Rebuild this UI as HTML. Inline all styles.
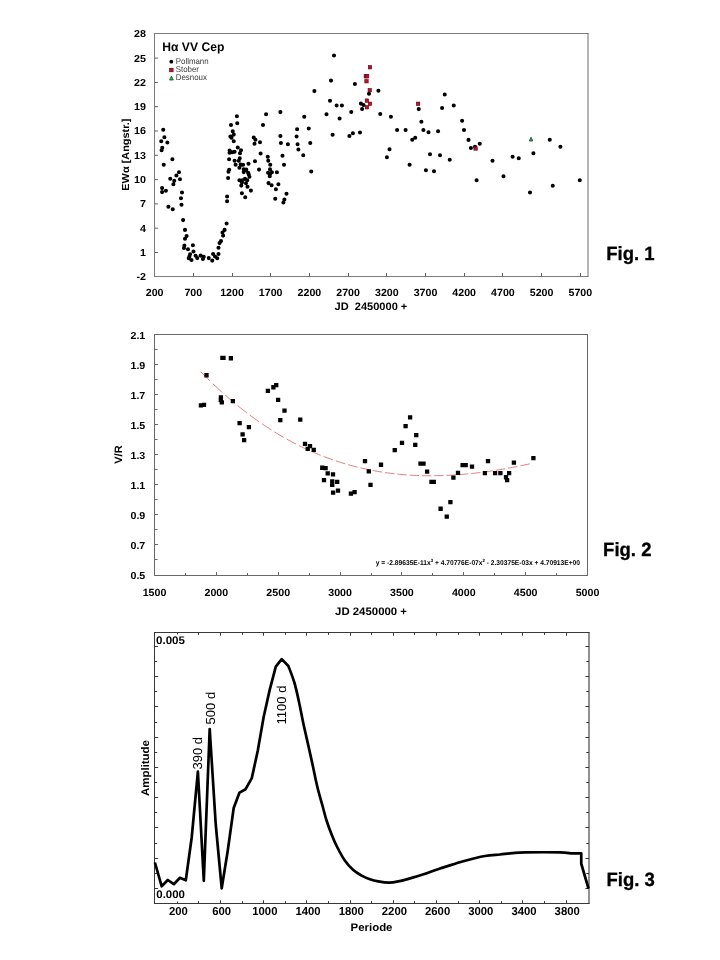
<!DOCTYPE html>
<html lang="de">
<head>
<meta charset="utf-8">
<title>Hα VV Cep</title>
<style>
html,body{margin:0;padding:0;background:#fff;}
body{width:720px;height:960px;overflow:hidden;font-family:"Liberation Sans", sans-serif;}
svg{display:block;font-family:"Liberation Sans", sans-serif;text-rendering:geometricPrecision;}
</style>
</head>
<body>
<svg width="720" height="960" viewBox="0 0 720 960">
<rect width="720" height="960" fill="#ffffff"/>

<g id="chart1">
<path d="M154.5 33.0V277.0M154.0 33.5H588.5M154.0 276.5H588.5" fill="none" stroke="#7c7c7c" stroke-width="1"/>
<path d="M588.0 33.0V277.0" fill="none" stroke="#7c7c7c" stroke-width="1.1"/>
<text transform="translate(146.00,37.20) scale(1.06,1)" font-size="10.15" font-weight="bold" text-anchor="end" fill="#000">28</text>
<line x1="154.50" y1="58.10" x2="158.00" y2="58.10" stroke="#606060" stroke-width="1"/>
<text transform="translate(146.00,61.50) scale(1.06,1)" font-size="10.15" font-weight="bold" text-anchor="end" fill="#000">25</text>
<line x1="154.50" y1="82.40" x2="158.00" y2="82.40" stroke="#606060" stroke-width="1"/>
<text transform="translate(146.00,85.80) scale(1.06,1)" font-size="10.15" font-weight="bold" text-anchor="end" fill="#000">22</text>
<line x1="154.50" y1="106.70" x2="158.00" y2="106.70" stroke="#606060" stroke-width="1"/>
<text transform="translate(146.00,110.10) scale(1.06,1)" font-size="10.15" font-weight="bold" text-anchor="end" fill="#000">19</text>
<line x1="154.50" y1="131.00" x2="158.00" y2="131.00" stroke="#606060" stroke-width="1"/>
<text transform="translate(146.00,134.40) scale(1.06,1)" font-size="10.15" font-weight="bold" text-anchor="end" fill="#000">16</text>
<line x1="154.50" y1="155.30" x2="158.00" y2="155.30" stroke="#606060" stroke-width="1"/>
<text transform="translate(146.00,158.70) scale(1.06,1)" font-size="10.15" font-weight="bold" text-anchor="end" fill="#000">13</text>
<line x1="154.50" y1="179.60" x2="158.00" y2="179.60" stroke="#606060" stroke-width="1"/>
<text transform="translate(146.00,183.00) scale(1.06,1)" font-size="10.15" font-weight="bold" text-anchor="end" fill="#000">10</text>
<line x1="154.50" y1="203.90" x2="158.00" y2="203.90" stroke="#606060" stroke-width="1"/>
<text transform="translate(146.00,207.30) scale(1.06,1)" font-size="10.15" font-weight="bold" text-anchor="end" fill="#000">7</text>
<line x1="154.50" y1="228.20" x2="158.00" y2="228.20" stroke="#606060" stroke-width="1"/>
<text transform="translate(146.00,231.60) scale(1.06,1)" font-size="10.15" font-weight="bold" text-anchor="end" fill="#000">4</text>
<line x1="154.50" y1="252.50" x2="158.00" y2="252.50" stroke="#606060" stroke-width="1"/>
<text transform="translate(146.00,255.90) scale(1.06,1)" font-size="10.15" font-weight="bold" text-anchor="end" fill="#000">1</text>
<text transform="translate(146.00,280.20) scale(1.06,1)" font-size="10.15" font-weight="bold" text-anchor="end" fill="#000">-2</text>
<text transform="translate(154.60,296.30) scale(1.023,1)" font-size="10.4" font-weight="bold" text-anchor="middle" fill="#000">200</text>
<line x1="193.50" y1="276.50" x2="193.50" y2="273.00" stroke="#606060" stroke-width="1"/>
<text transform="translate(193.30,296.30) scale(1.023,1)" font-size="10.4" font-weight="bold" text-anchor="middle" fill="#000">700</text>
<line x1="232.50" y1="276.50" x2="232.50" y2="273.00" stroke="#606060" stroke-width="1"/>
<text transform="translate(232.00,296.30) scale(1.023,1)" font-size="10.4" font-weight="bold" text-anchor="middle" fill="#000">1200</text>
<line x1="270.50" y1="276.50" x2="270.50" y2="273.00" stroke="#606060" stroke-width="1"/>
<text transform="translate(270.70,296.30) scale(1.023,1)" font-size="10.4" font-weight="bold" text-anchor="middle" fill="#000">1700</text>
<line x1="309.50" y1="276.50" x2="309.50" y2="273.00" stroke="#606060" stroke-width="1"/>
<text transform="translate(309.40,296.30) scale(1.023,1)" font-size="10.4" font-weight="bold" text-anchor="middle" fill="#000">2200</text>
<line x1="348.50" y1="276.50" x2="348.50" y2="273.00" stroke="#606060" stroke-width="1"/>
<text transform="translate(348.10,296.30) scale(1.023,1)" font-size="10.4" font-weight="bold" text-anchor="middle" fill="#000">2700</text>
<line x1="386.50" y1="276.50" x2="386.50" y2="273.00" stroke="#606060" stroke-width="1"/>
<text transform="translate(386.80,296.30) scale(1.023,1)" font-size="10.4" font-weight="bold" text-anchor="middle" fill="#000">3200</text>
<line x1="425.50" y1="276.50" x2="425.50" y2="273.00" stroke="#606060" stroke-width="1"/>
<text transform="translate(425.50,296.30) scale(1.023,1)" font-size="10.4" font-weight="bold" text-anchor="middle" fill="#000">3700</text>
<line x1="464.50" y1="276.50" x2="464.50" y2="273.00" stroke="#606060" stroke-width="1"/>
<text transform="translate(464.20,296.30) scale(1.023,1)" font-size="10.4" font-weight="bold" text-anchor="middle" fill="#000">4200</text>
<line x1="502.50" y1="276.50" x2="502.50" y2="273.00" stroke="#606060" stroke-width="1"/>
<text transform="translate(502.90,296.30) scale(1.023,1)" font-size="10.4" font-weight="bold" text-anchor="middle" fill="#000">4700</text>
<line x1="541.50" y1="276.50" x2="541.50" y2="273.00" stroke="#606060" stroke-width="1"/>
<text transform="translate(541.60,296.30) scale(1.023,1)" font-size="10.4" font-weight="bold" text-anchor="middle" fill="#000">5200</text>
<line x1="580.50" y1="276.50" x2="580.50" y2="273.00" stroke="#606060" stroke-width="1"/>
<text transform="translate(580.30,296.30) scale(1.023,1)" font-size="10.4" font-weight="bold" text-anchor="middle" fill="#000">5700</text>
<text transform="translate(370.90,310.00) scale(1.023,1)" font-size="10.8" font-weight="bold" text-anchor="middle" fill="#000" style="white-space:pre">JD  2450000 +</text>
<text transform="translate(129.00,154.60) rotate(-90) scale(1.07,1)" font-size="10.2" font-weight="bold" text-anchor="middle" fill="#000">EWα [Angstr.]</text>
<text transform="translate(162.30,50.60)" font-size="12.5" font-weight="bold" text-anchor="start" fill="#000" textLength="62.0" lengthAdjust="spacingAndGlyphs">Hα VV Cep</text>
<circle cx="171.3" cy="61.7" r="1.9" fill="#000"/>
<rect x="169.55" y="68.2" width="3.6" height="3.6" fill="#c01028" stroke="#600010" stroke-width="0.6"/>
<path d="M171.4 76.2 L173.3 80.0 L169.5 80.0 Z" fill="#35b04a" stroke="#156a25" stroke-width="0.9"/>
<text transform="translate(175.80,64.00) scale(0.94,1)" font-size="8.4" font-weight="normal" text-anchor="start" fill="#3a3a3a">Pollmann</text>
<text transform="translate(175.80,72.20) scale(0.94,1)" font-size="8.4" font-weight="normal" text-anchor="start" fill="#3a3a3a">Stober</text>
<text transform="translate(175.80,80.30) scale(0.94,1)" font-size="8.4" font-weight="normal" text-anchor="start" fill="#3a3a3a">Desnoux</text>
<path d="M163.25 129.80h0M164.40 137.20h0M161.25 141.20h0M167.40 142.45h0M162.25 147.70h0M161.60 150.20h0M172.40 159.30h0M163.75 164.80h0M236.90 116.20h0M237.25 123.30h0M231.00 124.95h0M232.75 131.20h0M233.75 134.60h0M230.40 136.45h0M231.50 137.70h0M233.75 141.30h0M237.75 147.45h0M241.00 150.20h0M229.60 150.45h0M229.60 152.70h0M234.60 151.70h0M232.20 152.20h0M240.00 153.30h0M239.75 158.30h0M229.10 159.30h0M234.60 160.80h0M238.75 160.80h0M235.60 164.80h0M240.60 164.60h0M243.10 164.80h0M248.50 163.70h0M239.40 167.70h0M243.75 169.20h0M246.25 169.60h0M229.20 169.70h0M266.10 114.30h0M280.40 112.10h0M304.25 116.80h0M263.00 124.95h0M297.10 129.30h0M308.75 128.45h0M280.40 135.95h0M296.60 136.45h0M253.75 137.45h0M255.40 139.70h0M260.00 142.30h0M254.50 143.80h0M280.90 142.95h0M287.90 144.20h0M297.60 144.20h0M310.25 142.95h0M298.40 149.45h0M260.60 153.45h0M303.25 155.30h0M282.50 155.80h0M267.75 156.70h0M255.00 161.20h0M268.25 160.80h0M270.25 164.80h0M284.00 164.80h0M259.00 169.60h0M270.00 169.30h0M311.25 171.45h0M179.00 172.30h0M176.40 175.45h0M170.25 178.70h0M180.00 179.30h0M174.25 180.80h0M173.40 184.30h0M162.10 188.10h0M165.90 190.80h0M162.10 192.10h0M182.00 192.45h0M181.00 198.30h0M181.50 204.80h0M168.40 206.70h0M172.75 209.30h0M183.10 220.10h0M185.00 229.90h0M228.50 171.70h0M228.10 177.95h0M227.10 196.45h0M227.10 201.20h0M226.60 223.50h0M224.60 229.90h0M222.50 232.45h0M186.60 236.10h0M223.10 235.60h0M185.00 238.70h0M221.00 241.10h0M219.60 243.10h0M192.90 245.20h0M184.40 245.60h0M184.00 247.95h0M218.50 247.70h0M188.00 249.30h0M193.50 251.45h0M190.10 254.20h0M213.10 253.95h0M218.50 253.95h0M189.40 256.45h0M195.60 255.80h0M200.60 255.60h0M203.75 256.80h0M215.00 256.45h0M188.75 258.30h0M197.25 258.10h0M202.90 258.95h0M208.75 258.10h0M217.25 258.30h0M191.50 259.95h0M212.25 260.60h0M243.75 172.10h0M248.10 172.70h0M248.75 174.60h0M249.40 176.70h0M276.90 172.30h0M268.10 172.70h0M271.90 172.30h0M270.00 174.20h0M269.75 176.20h0M245.00 178.70h0M239.40 180.20h0M242.50 180.20h0M247.25 180.20h0M241.90 182.45h0M246.00 183.30h0M241.25 185.60h0M247.50 186.70h0M268.50 183.10h0M271.60 185.20h0M278.40 184.20h0M275.90 189.30h0M250.90 190.60h0M241.90 193.30h0M245.25 197.20h0M286.50 193.70h0M275.25 198.80h0M284.40 199.60h0M283.40 202.45h0M314.40 91.10h0M334.00 55.45h0M331.00 80.60h0M354.90 83.95h0M378.40 90.80h0M369.00 93.70h0M330.00 100.70h0M336.60 105.45h0M341.90 105.45h0M360.90 103.60h0M363.50 104.95h0M362.10 108.95h0M351.25 111.95h0M326.50 114.30h0M339.60 118.45h0M380.25 113.95h0M390.90 116.80h0M397.10 129.95h0M405.60 129.95h0M360.00 132.45h0M352.90 133.30h0M349.40 135.95h0M332.60 134.80h0M389.50 149.20h0M386.90 157.30h0M409.60 164.80h0M418.75 109.10h0M444.75 94.45h0M453.75 105.45h0M442.10 107.95h0M421.40 121.80h0M462.10 120.80h0M423.40 129.95h0M428.50 132.30h0M438.10 131.30h0M464.00 129.95h0M415.25 137.70h0M412.25 139.70h0M468.50 139.90h0M479.75 143.70h0M470.90 147.95h0M475.00 146.70h0M430.00 154.20h0M440.00 155.30h0M449.75 159.80h0M425.90 170.30h0M434.00 171.20h0M476.60 180.30h0M549.75 139.80h0M560.40 146.80h0M533.40 153.30h0M512.60 156.80h0M518.75 158.30h0M492.50 160.80h0M503.50 176.30h0M579.80 180.30h0M552.75 185.70h0M530.00 192.45h0" stroke="#000" stroke-width="4.1" stroke-linecap="round" fill="none"/>
<rect x="368.30" y="65.55" width="3.4" height="3.4" fill="#c01028" stroke="#600010" stroke-width="0.6"/>
<rect x="364.10" y="74.55" width="3.4" height="3.4" fill="#c01028" stroke="#600010" stroke-width="0.6"/>
<rect x="365.40" y="74.55" width="3.4" height="3.4" fill="#c01028" stroke="#600010" stroke-width="0.6"/>
<rect x="364.80" y="79.55" width="3.4" height="3.4" fill="#c01028" stroke="#600010" stroke-width="0.6"/>
<rect x="368.05" y="88.50" width="3.4" height="3.4" fill="#c01028" stroke="#600010" stroke-width="0.6"/>
<rect x="365.20" y="98.90" width="3.4" height="3.4" fill="#c01028" stroke="#600010" stroke-width="0.6"/>
<rect x="368.30" y="102.05" width="3.4" height="3.4" fill="#c01028" stroke="#600010" stroke-width="0.6"/>
<rect x="365.20" y="105.55" width="3.4" height="3.4" fill="#c01028" stroke="#600010" stroke-width="0.6"/>
<rect x="416.40" y="102.05" width="3.4" height="3.4" fill="#c01028" stroke="#600010" stroke-width="0.6"/>
<rect x="473.90" y="146.80" width="3.4" height="3.4" fill="#c01028" stroke="#600010" stroke-width="0.6"/>
<path d="M531.05 137.3 L532.75 141.0 L529.35 141.0 Z" fill="#3a9a55" stroke="#1c5c2c" stroke-width="0.9" stroke-linejoin="miter"/>
<text transform="translate(606.20,260.00) scale(0.965,1)" font-size="19.2" font-weight="bold" text-anchor="start" fill="#000" stroke="#000" stroke-width="0.3">Fig. 1</text>
</g>
<g id="chart2">
<path d="M154.5 334.0V576.0M154.0 334.5H588.0M154.0 575.5H588.0" fill="none" stroke="#686868" stroke-width="1"/>
<path d="M587.5 334.0V576.0" fill="none" stroke="#686868" stroke-width="1.0"/>
<text transform="translate(145.30,338.50) scale(1.046,1)" font-size="10.2" font-weight="bold" text-anchor="end" fill="#000">2.1</text>
<line x1="154.50" y1="349.50" x2="157.50" y2="349.50" stroke="#686868" stroke-width="1"/>
<line x1="154.50" y1="364.50" x2="158.00" y2="364.50" stroke="#686868" stroke-width="1"/>
<text transform="translate(145.30,368.56) scale(1.046,1)" font-size="10.2" font-weight="bold" text-anchor="end" fill="#000">1.9</text>
<line x1="154.50" y1="379.50" x2="157.50" y2="379.50" stroke="#686868" stroke-width="1"/>
<line x1="154.50" y1="394.50" x2="158.00" y2="394.50" stroke="#686868" stroke-width="1"/>
<text transform="translate(145.30,398.62) scale(1.046,1)" font-size="10.2" font-weight="bold" text-anchor="end" fill="#000">1.7</text>
<line x1="154.50" y1="409.50" x2="157.50" y2="409.50" stroke="#686868" stroke-width="1"/>
<line x1="154.50" y1="424.50" x2="158.00" y2="424.50" stroke="#686868" stroke-width="1"/>
<text transform="translate(145.30,428.69) scale(1.046,1)" font-size="10.2" font-weight="bold" text-anchor="end" fill="#000">1.5</text>
<line x1="154.50" y1="439.50" x2="157.50" y2="439.50" stroke="#686868" stroke-width="1"/>
<line x1="154.50" y1="454.50" x2="158.00" y2="454.50" stroke="#686868" stroke-width="1"/>
<text transform="translate(145.30,458.75) scale(1.046,1)" font-size="10.2" font-weight="bold" text-anchor="end" fill="#000">1.3</text>
<line x1="154.50" y1="469.50" x2="157.50" y2="469.50" stroke="#686868" stroke-width="1"/>
<line x1="154.50" y1="484.50" x2="158.00" y2="484.50" stroke="#686868" stroke-width="1"/>
<text transform="translate(145.30,488.81) scale(1.046,1)" font-size="10.2" font-weight="bold" text-anchor="end" fill="#000">1.1</text>
<line x1="154.50" y1="499.50" x2="157.50" y2="499.50" stroke="#686868" stroke-width="1"/>
<line x1="154.50" y1="514.50" x2="158.00" y2="514.50" stroke="#686868" stroke-width="1"/>
<text transform="translate(145.30,518.88) scale(1.046,1)" font-size="10.2" font-weight="bold" text-anchor="end" fill="#000">0.9</text>
<line x1="154.50" y1="529.50" x2="157.50" y2="529.50" stroke="#686868" stroke-width="1"/>
<line x1="154.50" y1="544.50" x2="158.00" y2="544.50" stroke="#686868" stroke-width="1"/>
<text transform="translate(145.30,548.94) scale(1.046,1)" font-size="10.2" font-weight="bold" text-anchor="end" fill="#000">0.7</text>
<line x1="154.50" y1="559.50" x2="157.50" y2="559.50" stroke="#686868" stroke-width="1"/>
<text transform="translate(145.30,579.00) scale(1.046,1)" font-size="10.2" font-weight="bold" text-anchor="end" fill="#000">0.5</text>
<text transform="translate(154.50,595.80) scale(1.026,1)" font-size="10.4" font-weight="bold" text-anchor="middle" fill="#000">1500</text>
<line x1="185.50" y1="575.50" x2="185.50" y2="573.00" stroke="#686868" stroke-width="1"/>
<line x1="216.50" y1="575.50" x2="216.50" y2="572.00" stroke="#686868" stroke-width="1"/>
<text transform="translate(216.36,595.80) scale(1.026,1)" font-size="10.4" font-weight="bold" text-anchor="middle" fill="#000">2000</text>
<line x1="247.50" y1="575.50" x2="247.50" y2="573.00" stroke="#686868" stroke-width="1"/>
<line x1="278.50" y1="575.50" x2="278.50" y2="572.00" stroke="#686868" stroke-width="1"/>
<text transform="translate(278.21,595.80) scale(1.026,1)" font-size="10.4" font-weight="bold" text-anchor="middle" fill="#000">2500</text>
<line x1="309.50" y1="575.50" x2="309.50" y2="573.00" stroke="#686868" stroke-width="1"/>
<line x1="340.50" y1="575.50" x2="340.50" y2="572.00" stroke="#686868" stroke-width="1"/>
<text transform="translate(340.07,595.80) scale(1.026,1)" font-size="10.4" font-weight="bold" text-anchor="middle" fill="#000">3000</text>
<line x1="371.50" y1="575.50" x2="371.50" y2="573.00" stroke="#686868" stroke-width="1"/>
<line x1="401.50" y1="575.50" x2="401.50" y2="572.00" stroke="#686868" stroke-width="1"/>
<text transform="translate(401.93,595.80) scale(1.026,1)" font-size="10.4" font-weight="bold" text-anchor="middle" fill="#000">3500</text>
<line x1="432.50" y1="575.50" x2="432.50" y2="573.00" stroke="#686868" stroke-width="1"/>
<line x1="463.50" y1="575.50" x2="463.50" y2="572.00" stroke="#686868" stroke-width="1"/>
<text transform="translate(463.79,595.80) scale(1.026,1)" font-size="10.4" font-weight="bold" text-anchor="middle" fill="#000">4000</text>
<line x1="494.50" y1="575.50" x2="494.50" y2="573.00" stroke="#686868" stroke-width="1"/>
<line x1="525.50" y1="575.50" x2="525.50" y2="572.00" stroke="#686868" stroke-width="1"/>
<text transform="translate(525.64,595.80) scale(1.026,1)" font-size="10.4" font-weight="bold" text-anchor="middle" fill="#000">4500</text>
<line x1="556.50" y1="575.50" x2="556.50" y2="573.00" stroke="#686868" stroke-width="1"/>
<text transform="translate(587.50,595.80) scale(1.026,1)" font-size="10.4" font-weight="bold" text-anchor="middle" fill="#000">5000</text>
<text transform="translate(371.00,615.30) scale(1.046,1)" font-size="10.9" font-weight="bold" text-anchor="middle" fill="#000">JD 2450000 +</text>
<text transform="translate(122.20,454.60) rotate(-90) scale(1.03,1)" font-size="10.7" font-weight="bold" text-anchor="middle" fill="#000">V/R</text>
<path d="M200.60 371.61 L202.93 373.99 L205.25 376.32 L207.57 378.63 L209.90 380.91M212.90 383.79 L215.23 385.99 L217.55 388.16 L219.88 390.30 L222.20 392.41M225.20 395.08 L227.53 397.12 L229.85 399.12 L232.18 401.10 L234.50 403.04M237.50 405.51 L239.83 407.38 L242.15 409.23 L244.48 411.04 L246.80 412.83M249.80 415.09 L252.13 416.81 L254.45 418.50 L256.78 420.17 L259.10 421.80M262.10 423.87 L264.43 425.44 L266.75 426.98 L269.08 428.49 L271.40 429.98M274.40 431.85 L276.73 433.28 L279.05 434.67 L281.38 436.04 L283.70 437.38M286.70 439.08 L289.03 440.36 L291.35 441.62 L293.68 442.85 L296.00 444.05M299.00 445.57 L301.33 446.71 L303.65 447.83 L305.98 448.93 L308.30 450.00M311.30 451.35 L313.63 452.36 L315.95 453.35 L318.28 454.32 L320.60 455.26M323.60 456.44 L325.93 457.33 L328.25 458.19 L330.58 459.04 L332.90 459.86M335.90 460.88 L338.23 461.64 L340.55 462.39 L342.88 463.11 L345.20 463.81M348.20 464.68 L350.53 465.33 L352.85 465.96 L355.18 466.57 L357.50 467.15M360.50 467.88 L362.83 468.41 L365.15 468.93 L367.48 469.43 L369.80 469.91M372.80 470.49 L375.13 470.92 L377.45 471.33 L379.78 471.72 L382.10 472.10M385.10 472.55 L387.43 472.88 L389.75 473.19 L392.08 473.48 L394.40 473.75M397.40 474.08 L399.73 474.31 L402.05 474.52 L404.38 474.72 L406.70 474.89M409.70 475.10 L412.03 475.24 L414.35 475.36 L416.68 475.46 L419.00 475.55M422.00 475.64 L424.33 475.69 L426.65 475.73 L428.98 475.75 L431.30 475.75M434.30 475.73 L436.63 475.70 L438.95 475.65 L441.28 475.59 L443.60 475.52M446.60 475.40 L448.93 475.29 L451.25 475.16 L453.58 475.02 L455.90 474.87M458.90 474.66 L461.23 474.47 L463.55 474.28 L465.88 474.07 L468.20 473.85M471.20 473.54 L473.53 473.29 L475.85 473.03 L478.18 472.75 L480.50 472.46M483.50 472.08 L485.83 471.76 L488.15 471.43 L490.48 471.10 L492.80 470.75M495.80 470.28 L498.13 469.91 L500.45 469.53 L502.78 469.13 L505.10 468.73M508.10 468.19 L510.43 467.77 L512.75 467.33 L515.08 466.88 L517.40 466.43M520.40 465.83 L522.73 465.35 L525.05 464.87 L527.38 464.38 L529.70 463.88" fill="none" stroke="#e06868" stroke-width="0.85"/>
<path d="M222.40 357.90h0M223.50 357.90h0M230.90 358.25h0M206.50 375.25h0M276.25 385.15h0M273.40 387.25h0M267.90 390.90h0M220.90 397.40h0M220.80 399.95h0M221.80 402.45h0M232.90 401.05h0M278.10 399.95h0M200.90 405.35h0M204.00 404.95h0M284.50 410.65h0M280.30 420.05h0M239.60 423.05h0M248.90 427.15h0M242.60 434.40h0M244.10 440.15h0M300.25 419.55h0M305.00 443.90h0M310.00 446.15h0M307.75 448.90h0M313.75 449.90h0M365.00 461.15h0M322.25 467.75h0M325.60 468.15h0M327.70 473.40h0M333.00 474.35h0M324.00 480.15h0M332.25 481.40h0M337.20 481.90h0M332.25 484.95h0M368.80 471.40h0M338.00 490.65h0M370.50 484.90h0M333.10 492.65h0M350.90 493.65h0M354.60 492.15h0M381.00 464.75h0M410.10 417.40h0M405.60 426.15h0M416.25 435.05h0M402.00 442.90h0M415.25 444.90h0M394.75 450.15h0M420.50 463.55h0M423.50 463.55h0M427.10 471.55h0M431.50 481.90h0M433.75 481.90h0M462.60 465.15h0M465.70 465.15h0M458.00 472.90h0M453.40 477.65h0M450.40 502.15h0M440.60 508.75h0M446.75 516.65h0M472.00 466.65h0M488.00 461.05h0M484.90 473.05h0M495.10 473.05h0M500.40 473.05h0M509.10 473.05h0M506.00 477.25h0M507.10 480.15h0M513.90 462.65h0M533.40 458.05h0" stroke="#000" stroke-width="4.3" stroke-linecap="square" fill="none"/>
<text transform="translate(375.80,565.00)" font-size="7" font-weight="bold" text-anchor="start" fill="#000" textLength="204.2" lengthAdjust="spacingAndGlyphs">y = -2.89635E-11x<tspan font-size="4.5" dy="-3">3</tspan><tspan dy="3"> + 4.70776E-07x</tspan><tspan font-size="4.5" dy="-3">2</tspan><tspan dy="3"> - 2.30375E-03x + 4.70913E+00</tspan></text>
<text transform="translate(603.10,555.90) scale(0.965,1)" font-size="19.2" font-weight="bold" text-anchor="start" fill="#000" stroke="#000" stroke-width="0.3">Fig. 2</text>
</g>
<g id="chart3">
<path d="M154.5 632.0V904.0M154.0 632.5H589.5M154.0 903.5H589.5" fill="none" stroke="#383838" stroke-width="1"/>
<path d="M589.0 632.0V904.0" fill="none" stroke="#383838" stroke-width="1.1"/>
<line x1="177.50" y1="903.50" x2="177.50" y2="901.50" stroke="#383838" stroke-width="1"/>
<line x1="177.50" y1="632.50" x2="177.50" y2="634.50" stroke="#383838" stroke-width="1"/>
<text transform="translate(178.45,914.80) scale(0.985,1)" font-size="11.5" font-weight="bold" text-anchor="middle" fill="#000">200</text>
<line x1="198.50" y1="903.50" x2="198.50" y2="901.10" stroke="#383838" stroke-width="1"/>
<line x1="198.50" y1="632.50" x2="198.50" y2="634.90" stroke="#383838" stroke-width="1"/>
<line x1="220.50" y1="903.50" x2="220.50" y2="900.30" stroke="#383838" stroke-width="1"/>
<line x1="220.50" y1="632.50" x2="220.50" y2="635.70" stroke="#383838" stroke-width="1"/>
<text transform="translate(221.65,914.80) scale(0.985,1)" font-size="11.5" font-weight="bold" text-anchor="middle" fill="#000">600</text>
<line x1="242.50" y1="903.50" x2="242.50" y2="901.10" stroke="#383838" stroke-width="1"/>
<line x1="242.50" y1="632.50" x2="242.50" y2="634.90" stroke="#383838" stroke-width="1"/>
<line x1="263.50" y1="903.50" x2="263.50" y2="900.30" stroke="#383838" stroke-width="1"/>
<line x1="263.50" y1="632.50" x2="263.50" y2="635.70" stroke="#383838" stroke-width="1"/>
<text transform="translate(264.84,914.80) scale(0.985,1)" font-size="11.5" font-weight="bold" text-anchor="middle" fill="#000">1000</text>
<line x1="285.50" y1="903.50" x2="285.50" y2="901.10" stroke="#383838" stroke-width="1"/>
<line x1="285.50" y1="632.50" x2="285.50" y2="634.90" stroke="#383838" stroke-width="1"/>
<line x1="306.50" y1="903.50" x2="306.50" y2="900.30" stroke="#383838" stroke-width="1"/>
<line x1="306.50" y1="632.50" x2="306.50" y2="635.70" stroke="#383838" stroke-width="1"/>
<text transform="translate(308.04,914.80) scale(0.985,1)" font-size="11.5" font-weight="bold" text-anchor="middle" fill="#000">1400</text>
<line x1="328.50" y1="903.50" x2="328.50" y2="901.10" stroke="#383838" stroke-width="1"/>
<line x1="328.50" y1="632.50" x2="328.50" y2="634.90" stroke="#383838" stroke-width="1"/>
<line x1="350.50" y1="903.50" x2="350.50" y2="900.30" stroke="#383838" stroke-width="1"/>
<line x1="350.50" y1="632.50" x2="350.50" y2="635.70" stroke="#383838" stroke-width="1"/>
<text transform="translate(351.23,914.80) scale(0.985,1)" font-size="11.5" font-weight="bold" text-anchor="middle" fill="#000">1800</text>
<line x1="371.50" y1="903.50" x2="371.50" y2="901.10" stroke="#383838" stroke-width="1"/>
<line x1="371.50" y1="632.50" x2="371.50" y2="634.90" stroke="#383838" stroke-width="1"/>
<line x1="393.50" y1="903.50" x2="393.50" y2="900.30" stroke="#383838" stroke-width="1"/>
<line x1="393.50" y1="632.50" x2="393.50" y2="635.70" stroke="#383838" stroke-width="1"/>
<text transform="translate(394.43,914.80) scale(0.985,1)" font-size="11.5" font-weight="bold" text-anchor="middle" fill="#000">2200</text>
<line x1="414.50" y1="903.50" x2="414.50" y2="901.10" stroke="#383838" stroke-width="1"/>
<line x1="414.50" y1="632.50" x2="414.50" y2="634.90" stroke="#383838" stroke-width="1"/>
<line x1="436.50" y1="903.50" x2="436.50" y2="900.30" stroke="#383838" stroke-width="1"/>
<line x1="436.50" y1="632.50" x2="436.50" y2="635.70" stroke="#383838" stroke-width="1"/>
<text transform="translate(437.63,914.80) scale(0.985,1)" font-size="11.5" font-weight="bold" text-anchor="middle" fill="#000">2600</text>
<line x1="458.50" y1="903.50" x2="458.50" y2="901.10" stroke="#383838" stroke-width="1"/>
<line x1="458.50" y1="632.50" x2="458.50" y2="634.90" stroke="#383838" stroke-width="1"/>
<line x1="479.50" y1="903.50" x2="479.50" y2="900.30" stroke="#383838" stroke-width="1"/>
<line x1="479.50" y1="632.50" x2="479.50" y2="635.70" stroke="#383838" stroke-width="1"/>
<text transform="translate(480.82,914.80) scale(0.985,1)" font-size="11.5" font-weight="bold" text-anchor="middle" fill="#000">3000</text>
<line x1="501.50" y1="903.50" x2="501.50" y2="901.10" stroke="#383838" stroke-width="1"/>
<line x1="501.50" y1="632.50" x2="501.50" y2="634.90" stroke="#383838" stroke-width="1"/>
<line x1="522.50" y1="903.50" x2="522.50" y2="900.30" stroke="#383838" stroke-width="1"/>
<line x1="522.50" y1="632.50" x2="522.50" y2="635.70" stroke="#383838" stroke-width="1"/>
<text transform="translate(524.02,914.80) scale(0.985,1)" font-size="11.5" font-weight="bold" text-anchor="middle" fill="#000">3400</text>
<line x1="544.50" y1="903.50" x2="544.50" y2="901.10" stroke="#383838" stroke-width="1"/>
<line x1="544.50" y1="632.50" x2="544.50" y2="634.90" stroke="#383838" stroke-width="1"/>
<line x1="566.50" y1="903.50" x2="566.50" y2="900.30" stroke="#383838" stroke-width="1"/>
<line x1="566.50" y1="632.50" x2="566.50" y2="635.70" stroke="#383838" stroke-width="1"/>
<text transform="translate(567.21,914.80) scale(0.985,1)" font-size="11.5" font-weight="bold" text-anchor="middle" fill="#000">3800</text>
<line x1="154.50" y1="888.50" x2="158.10" y2="888.50" stroke="#383838" stroke-width="1"/>
<line x1="589.00" y1="888.50" x2="585.40" y2="888.50" stroke="#383838" stroke-width="1"/>
<line x1="154.50" y1="873.50" x2="157.20" y2="873.50" stroke="#383838" stroke-width="1"/>
<line x1="589.00" y1="873.50" x2="586.30" y2="873.50" stroke="#383838" stroke-width="1"/>
<line x1="154.50" y1="858.50" x2="158.10" y2="858.50" stroke="#383838" stroke-width="1"/>
<line x1="589.00" y1="858.50" x2="585.40" y2="858.50" stroke="#383838" stroke-width="1"/>
<line x1="154.50" y1="843.50" x2="157.20" y2="843.50" stroke="#383838" stroke-width="1"/>
<line x1="589.00" y1="843.50" x2="586.30" y2="843.50" stroke="#383838" stroke-width="1"/>
<line x1="154.50" y1="827.50" x2="158.10" y2="827.50" stroke="#383838" stroke-width="1"/>
<line x1="589.00" y1="827.50" x2="585.40" y2="827.50" stroke="#383838" stroke-width="1"/>
<line x1="154.50" y1="812.50" x2="157.20" y2="812.50" stroke="#383838" stroke-width="1"/>
<line x1="589.00" y1="812.50" x2="586.30" y2="812.50" stroke="#383838" stroke-width="1"/>
<line x1="154.50" y1="797.50" x2="158.10" y2="797.50" stroke="#383838" stroke-width="1"/>
<line x1="589.00" y1="797.50" x2="585.40" y2="797.50" stroke="#383838" stroke-width="1"/>
<line x1="154.50" y1="782.50" x2="157.20" y2="782.50" stroke="#383838" stroke-width="1"/>
<line x1="589.00" y1="782.50" x2="586.30" y2="782.50" stroke="#383838" stroke-width="1"/>
<line x1="154.50" y1="767.50" x2="158.10" y2="767.50" stroke="#383838" stroke-width="1"/>
<line x1="589.00" y1="767.50" x2="585.40" y2="767.50" stroke="#383838" stroke-width="1"/>
<line x1="154.50" y1="752.50" x2="157.20" y2="752.50" stroke="#383838" stroke-width="1"/>
<line x1="589.00" y1="752.50" x2="586.30" y2="752.50" stroke="#383838" stroke-width="1"/>
<line x1="154.50" y1="737.50" x2="158.10" y2="737.50" stroke="#383838" stroke-width="1"/>
<line x1="589.00" y1="737.50" x2="585.40" y2="737.50" stroke="#383838" stroke-width="1"/>
<line x1="154.50" y1="722.50" x2="157.20" y2="722.50" stroke="#383838" stroke-width="1"/>
<line x1="589.00" y1="722.50" x2="586.30" y2="722.50" stroke="#383838" stroke-width="1"/>
<line x1="154.50" y1="706.50" x2="158.10" y2="706.50" stroke="#383838" stroke-width="1"/>
<line x1="589.00" y1="706.50" x2="585.40" y2="706.50" stroke="#383838" stroke-width="1"/>
<line x1="154.50" y1="691.50" x2="157.20" y2="691.50" stroke="#383838" stroke-width="1"/>
<line x1="589.00" y1="691.50" x2="586.30" y2="691.50" stroke="#383838" stroke-width="1"/>
<line x1="154.50" y1="676.50" x2="158.10" y2="676.50" stroke="#383838" stroke-width="1"/>
<line x1="589.00" y1="676.50" x2="585.40" y2="676.50" stroke="#383838" stroke-width="1"/>
<line x1="154.50" y1="661.50" x2="157.20" y2="661.50" stroke="#383838" stroke-width="1"/>
<line x1="589.00" y1="661.50" x2="586.30" y2="661.50" stroke="#383838" stroke-width="1"/>
<line x1="154.50" y1="646.50" x2="158.10" y2="646.50" stroke="#383838" stroke-width="1"/>
<line x1="589.00" y1="646.50" x2="585.40" y2="646.50" stroke="#383838" stroke-width="1"/>
<rect x="156.6" y="634.6" width="29" height="10" fill="#fff"/>
<text transform="translate(156.00,643.90) scale(1.05,1)" font-size="11" font-weight="bold" text-anchor="start" fill="#000">0.005</text>
<text transform="translate(156.30,897.60) scale(1.04,1)" font-size="11" font-weight="bold" text-anchor="start" fill="#000">0.000</text>
<text transform="translate(371.50,930.50) scale(1.04,1)" font-size="11" font-weight="bold" text-anchor="middle" fill="#000">Periode</text>
<text transform="translate(148.50,768.00) rotate(-90) scale(1.04,1)" font-size="11" font-weight="bold" text-anchor="middle" fill="#000">Amplitude</text>
<text transform="translate(202.30,769.50) rotate(-90)" font-size="13" font-weight="normal" text-anchor="start" fill="#000">390 d</text>
<text transform="translate(215.00,724.40) rotate(-90)" font-size="13" font-weight="normal" text-anchor="start" fill="#000">500 d</text>
<text transform="translate(286.40,724.40) rotate(-90)" font-size="13" font-weight="normal" text-anchor="start" fill="#000">1100 d</text>
<path d="M154.90 862.50L161.70 886.30L167.80 880.00L173.80 884.20L180.00 877.80L185.80 880.30L191.70 837.50L197.90 771.70L203.80 880.80L209.70 729.00L215.70 824.00L221.70 888.30L227.70 851.00L233.70 808.00L239.50 792.60L245.60 789.20L251.80 778.10L257.70 751.00L263.70 716.70L269.70 689.90L275.80 666.70L281.70 659.10L288.40 666.00C289.42 668.83 292.73 677.00 294.50 683.00C296.27 689.00 297.53 695.28 299.00 702.00C300.47 708.72 301.70 715.85 303.30 723.30C304.90 730.75 306.98 739.47 308.60 746.70C310.22 753.93 311.55 760.03 313.00 766.70C314.45 773.37 315.75 780.32 317.30 786.70C318.85 793.08 320.78 799.45 322.30 805.00C323.82 810.55 324.82 815.00 326.40 820.00C327.98 825.00 330.05 830.58 331.80 835.00C333.55 839.42 334.73 842.25 336.90 846.50C339.07 850.75 342.07 856.57 344.80 860.50C347.53 864.43 350.48 867.58 353.30 870.10C356.12 872.62 358.92 874.07 361.70 875.60C364.48 877.13 367.23 878.33 370.00 879.30C372.77 880.27 375.13 880.85 378.30 881.40C381.47 881.95 385.67 882.60 389.00 882.60C392.33 882.60 394.52 882.18 398.30 881.40C402.08 880.62 406.97 879.27 411.70 877.90C416.43 876.53 421.98 874.77 426.70 873.20C431.42 871.63 436.67 869.63 440.00 868.50C443.33 867.37 442.82 867.62 446.70 866.40C450.58 865.18 456.92 862.93 463.30 861.20C469.68 859.47 478.88 857.12 485.00 856.00C491.12 854.88 495.50 854.97 500.00 854.50C504.50 854.03 507.83 853.55 512.00 853.20C516.17 852.85 517.00 852.53 525.00 852.40C533.00 852.27 552.08 852.23 560.00 852.40C567.92 852.57 568.96 853.23 572.50 853.40C576.04 853.57 579.79 853.40 581.25 853.40L581.25 863.75L588.50 888.50" fill="none" stroke="#000" stroke-width="2.7" stroke-linejoin="round" stroke-linecap="butt"/>
<text transform="translate(606.50,885.90) scale(0.965,1)" font-size="19.2" font-weight="bold" text-anchor="start" fill="#000" stroke="#000" stroke-width="0.3">Fig. 3</text>
</g>
</svg>
</body>
</html>
